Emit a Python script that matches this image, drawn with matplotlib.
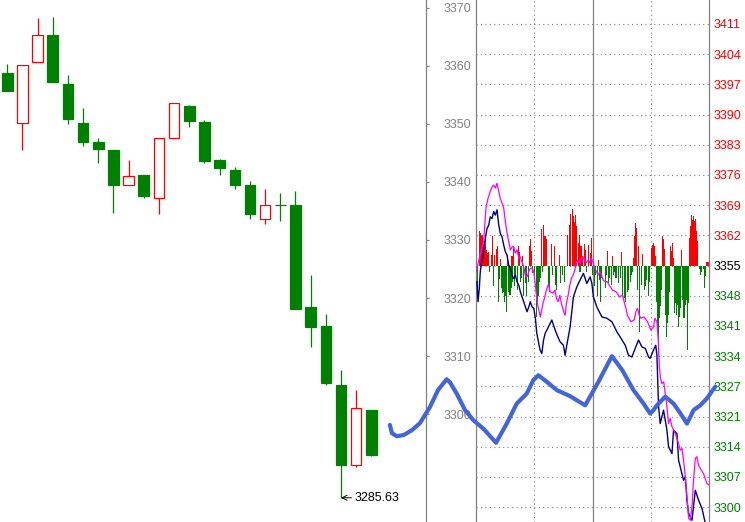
import matplotlib
matplotlib.use("Agg")
import matplotlib.pyplot as plt
from matplotlib.patches import Rectangle
import numpy as np

plt.rcParams['font.family'] = ['Liberation Sans', 'DejaVu Sans']

# ── Daily candles (left panel) ───────────────────────────────────
OPEN = [3358.7, 3350.1, 3360.6, 3365.3, 3356.9, 3350.1, 3346.9, 3345.5, 3339.4,
        3341.2, 3337.3, 3347.5, 3353.1, 3350.3, 3343.8, 3342.0, 3339.5, 3333.6,
        3336.0, 3336.0, 3318.5, 3315.2, 3305.0, 3291.2, 3300.7]
HIGH = [3360.3, 3360.1, 3368.2, 3368.4, 3358.4, 3352.7, 3347.6, 3345.5, 3343.8,
        3341.2, 3347.5, 3353.5, 3353.2, 3350.7, 3344.0, 3342.6, 3340.2, 3338.8,
        3338.1, 3338.4, 3324.0, 3317.3, 3307.6, 3304.2, 3300.7]
LOW = [3355.7, 3345.5, 3360.6, 3357.2, 3350.0, 3346.1, 3343.3, 3334.7, 3339.4,
       3337.2, 3334.4, 3347.5, 3349.5, 3343.3, 3341.2, 3338.8, 3333.7, 3332.8,
       3333.2, 3318.2, 3311.5, 3305.0, 3285.63, 3291.0, 3292.8]
CLOSE = [3355.7, 3360.1, 3365.2, 3357.2, 3350.9, 3346.9, 3345.7, 3339.5, 3341.1,
         3337.5, 3347.5, 3353.5, 3350.4, 3343.6, 3342.4, 3339.5, 3334.4, 3336.1,
         3336.0, 3318.2, 3315.1, 3305.3, 3291.3, 3301.0, 3293.0]
LOW_MARK = 3285.63
MID_TICKS = [3300, 3310, 3320, 3330, 3340, 3350, 3360, 3370]

# ── Intraday panel (right) ───────────────────────────────────────
RIGHT_LABELS = ['3300', '3307', '3314', '3321', '3327', '3334', '3341', '3348',
                '3355', '3362', '3369', '3376', '3383', '3390', '3397', '3404', '3411']

RED_MIN = [4, 5, 6, 7, 8, 9, 10, 11, 12, 13, 16, 17, 19, 21, 22, 25, 32, 37, 39, 44,
           45, 48, 55, 56, 57, 67, 69, 71, 72, 78, 81, 86, 94, 96, 97, 99, 100, 101,
           102, 103, 105, 106, 108, 110, 112, 113, 116, 118, 119, 126, 135, 140, 150,
           162, 163, 164, 165, 167, 171, 181, 182, 183, 184, 185, 192, 193, 194, 200,
           201, 202, 203, 211, 220, 221, 222, 223, 224, 225, 226, 227, 228, 237, 238, 239]
RED_VAL = [8.0, 7.5, 6.7, 7.1, 5.0, 4.8, 6.8, 3.5, 2.8, 3.2, 2.5, 6.9, 2.5, 3.9, 4.4,
           1.6, 2.5, 2.1, 4.4, 4.6, 3.2, 2.1, 4.4, 6.1, 3.4, 8.5, 9.4, 6.9, 6.2, 5.0,
           4.4, 2.5, 7.1, 9.4, 11.8, 12.9, 11.3, 10.1, 11.7, 9.0, 5.1, 7.1, 4.4, 2.1,
           4.9, 3.6, 4.8, 2.8, 6.3, 1.3, 3.4, 2.1, 3.1, 1.8, 6.7, 9.7, 8.6, 4.4, 2.7,
           4.1, 4.8, 5.1, 4.6, 2.3, 6.7, 6.0, 3.8, 4.6, 3.3, 5.2, 1.8, 3.5, 6.4, 9.0,
           11.7, 10.4, 11.3, 10.2, 10.6, 7.9, 5.6, 0.9, 0.9, 0.9]

GRN_MIN = [1, 2, 14, 18, 23, 24, 26, 27, 28, 29, 30, 31, 33, 34, 35, 36, 38, 40, 41, 43,
           46, 47, 49, 51, 52, 54, 58, 60, 62, 63, 64, 65, 66, 68, 75, 76, 79, 82, 83,
           87, 89, 91, 107, 114, 120, 122, 123, 125, 127, 128, 129, 133, 134, 136, 137,
           139, 141, 143, 144, 147, 149, 151, 153, 154, 156, 157, 159, 160, 161, 166,
           168, 170, 173, 174, 175, 177, 178, 186, 187, 188, 189, 190, 191, 195, 196,
           197, 198, 199, 204, 205, 206, 207, 208, 209, 210, 212, 213, 214, 215, 216,
           218, 219, 230, 231, 232, 234, 235, 236]
GRN_VAL = [-5.2, -4.4, -1.4, -4.8, -8.3, -3.0, -5.2, -6.4, -6.0, -8.3, -7.0, -10.7,
           -6.0, -4.4, -6.7, -5.2, -3.7, -4.8, -2.5, -5.5, -3.7, -2.9, -7.1, -4.0,
           -7.1, -3.7, -1.8, -2.5, -11.7, -8.5, -7.1, -3.7, -2.9, -1.4, -4.4, -6.0,
           -2.1, -4.4, -5.6, -4.1, -2.1, -3.7, -1.4, -1.4, -2.1, -4.8, -2.1, -7.1,
           -3.3, -8.3, -2.9, -5.2, -2.1, -4.1, -2.9, -4.4, -2.1, -1.4, -2.9, -4.1,
           -2.9, -6.7, -7.5, -8.3, -6.0, -5.6, -3.7, -2.1, -1.4, -5.6, -15.2, -4.4,
           -5.6, -4.8, -3.3, -7.1, -3.7, -8.3, -14.4, -20.5, -12.1, -9.4, -5.5, -11.3,
           -16.3, -13.1, -11.3, -6.0, -10.9, -8.6, -11.3, -9.0, -14.0, -11.7, -9.7,
           -7.8, -10.1, -12.0, -9.0, -7.8, -19.3, -8.5, -0.9, -2.1, -1.4, -0.9, -5.1, -2.5]
BAR_BASE = 3355.5

MAG_T = [0, 4.1, 7.9, 9.0, 10.3, 12.4, 14.7, 16.5, 18.2, 19.9, 21.6, 23.4, 25.0, 26.8,
         28.5, 30.2, 31.9, 33.7, 35.3, 37.1, 38.8, 40.5, 42.2, 44.0, 45.6, 47.4, 49.1,
         50.8, 52.5, 54.3, 55.9, 57.7, 59.4, 61.1, 62.8, 64.6, 66.2, 69.0, 70.8, 72.4,
         74.5, 76.2, 79.3, 81.4, 82.7, 84.5, 86.2, 87.9, 89.6, 91.7, 93.0, 94.8, 96.5,
         98.2, 99.9, 101.7, 103.3, 105.0, 106.8, 108.5, 110.2, 112.0, 113.6, 115.4,
         117.1, 118.8, 120.5, 122.3, 123.9, 125.7, 127.4, 129.1, 130.8, 132.6, 135.2,
         137.0, 140.4, 143.9, 145.5, 147.3, 150.7, 152.4, 154.2, 155.8, 159.3, 162.7,
         164.5, 166.1, 167.9, 169.6, 173.0, 176.4, 179.9, 182.6, 184.0, 186.1, 187.5,
         188.5, 189.8, 191.2, 193.1, 194.7, 196.4, 198.1, 199.8, 201.6, 205.0, 208.4,
         210.1, 211.9, 213.5, 215.3, 217.0, 218.7, 220.4, 222.2, 223.8, 225.6, 227.3,
         228.9, 230.7, 234.1, 237.6, 240.0]
MAG_P = [3354.0, 3357.9, 3361.0, 3364.8, 3368.7, 3371.0, 3372.5, 3373.6, 3374.0, 3373.3,
         3374.4, 3372.5, 3370.9, 3369.9, 3368.7, 3365.6, 3363.0, 3361.0, 3359.1, 3359.8,
         3359.8, 3358.4, 3359.1, 3357.2, 3357.5, 3356.3, 3355.2, 3353.3, 3352.9, 3354.1,
         3354.9, 3354.9, 3354.1, 3351.0, 3347.2, 3345.3, 3343.7, 3346.9, 3348.3, 3349.9,
         3351.2, 3349.5, 3349.2, 3349.9, 3348.0, 3347.2, 3348.7, 3346.8, 3345.3, 3344.1,
         3346.8, 3348.7, 3351.0, 3352.6, 3353.3, 3354.5, 3356.0, 3356.8, 3356.0, 3357.2,
         3357.5, 3356.5, 3356.2, 3356.8, 3356.2, 3357.2, 3356.2, 3354.9, 3354.1, 3353.3,
         3354.1, 3353.3, 3352.2, 3351.8, 3351.8, 3351.0, 3349.9, 3349.5, 3349.1, 3348.3,
         3348.7, 3347.2, 3345.7, 3344.1, 3342.6, 3343.0, 3344.9, 3345.7, 3344.1, 3343.4,
         3343.7, 3342.6, 3340.7, 3341.4, 3343.4, 3342.6, 3338.4, 3332.6, 3329.6, 3328.4,
         3328.8, 3326.1, 3323.1, 3319.2, 3320.4, 3318.5, 3316.9, 3314.6, 3313.1, 3313.5,
         3310.8, 3307.0, 3302.4, 3297.5, 3297.0, 3300.1, 3306.2, 3311.2, 3311.6, 3309.7,
         3308.9, 3307.7, 3305.4, 3305.1]

NAVY_T = [1.0, 2.1, 3.4, 4.4, 5.5, 6.9, 9.0, 11.3, 13.1, 14.7, 16.5, 18.2, 19.9, 21.6,
          23.4, 25.0, 26.8, 28.5, 30.2, 31.9, 33.7, 35.3, 37.1, 38.8, 40.5, 42.2, 44.0,
          45.6, 47.4, 49.1, 50.8, 52.5, 54.3, 55.9, 57.7, 59.4, 61.1, 62.5, 64.2, 65.9,
          67.7, 69.5, 71.1, 74.5, 78.0, 81.4, 84.8, 86.5, 89.9, 91.7, 93.4, 96.8, 100.2,
          103.7, 107.1, 110.5, 114.0, 117.4, 119.2, 120.8, 124.3, 129.5, 134.6, 139.8,
          144.9, 148.3, 153.5, 156.9, 160.4, 163.8, 167.2, 170.7, 174.1, 177.5, 179.2,
          182.6, 184.9, 186.1, 187.8, 189.5, 192.9, 196.4, 198.1, 201.6, 203.2, 206.7,
          208.4, 213.5, 215.3, 217.0, 218.7, 222.2, 225.6, 229.0, 232.5, 235.9, 237.0]
NAVY_P = [3351.8, 3347.2, 3350.3, 3354.1, 3356.0, 3357.2, 3361.0, 3364.0, 3364.8, 3366.7,
          3366.3, 3367.9, 3367.1, 3368.3, 3364.8, 3362.9, 3362.1, 3360.2, 3358.7, 3357.9,
          3355.6, 3354.9, 3353.3, 3352.5, 3353.3, 3351.8, 3351.0, 3349.5, 3348.3, 3347.2,
          3346.0, 3344.9, 3346.0, 3347.2, 3346.0, 3345.7, 3343.4, 3340.0, 3338.0, 3336.1,
          3335.3, 3338.4, 3339.9, 3341.4, 3343.0, 3340.7, 3338.8, 3338.0, 3337.2, 3334.9,
          3337.2, 3341.4, 3348.3, 3350.6, 3352.2, 3353.7, 3351.4, 3352.9, 3351.4, 3348.3,
          3346.0, 3343.7, 3343.4, 3342.6, 3340.3, 3339.1, 3337.2, 3334.9, 3334.5, 3336.5,
          3338.4, 3336.8, 3336.5, 3334.5, 3334.2, 3336.1, 3337.2, 3334.9, 3323.1, 3319.2,
          3322.3, 3317.7, 3313.9, 3312.3, 3317.7, 3316.9, 3310.8, 3306.2, 3307.0, 3301.6,
          3298.6, 3297.0, 3303.9, 3301.6, 3299.7, 3296.3, 3294.5]

# thick overlay line, same coordinates as the intraday panel
BLUE_T = [-88.6, -86.5, -81.4, -74.2, -65.9, -57.7, -47.4, -39.1, -30.2, -26.8, -19.9,
          -11.3, -2.8, 8.2, 20.6, 31.6, 41.9, 52.2, 59.0, 64.2, 72.8, 83.1, 96.8, 112.3,
          125.7, 139.8, 150.4, 162.0, 172.3, 179.2, 182.6, 186.1, 194.7, 203.2, 210.1,
          217.0, 220.4, 223.8, 230.7, 237.6, 246.2]
BLUE_P = [3318.9, 3317.0, 3316.3, 3316.6, 3317.7, 3319.3, 3323.0, 3326.9, 3329.4, 3328.7,
          3326.1, 3322.3, 3320.0, 3317.9, 3314.8, 3319.2, 3323.8, 3326.1, 3329.2, 3330.3,
          3328.8, 3326.9, 3325.5, 3323.4, 3328.7, 3334.7, 3331.5, 3326.9, 3323.8, 3321.5,
          3322.3, 3323.4, 3325.4, 3323.8, 3321.6, 3319.2, 3320.7, 3322.3, 3323.4, 3325.0,
          3327.7]

C_UP = "#FF0000"
C_DN = "#008000"
C_AX = "#808080"
GRID_LS = (0, (1, 3))

W, H = 745, 522
fig = plt.figure(figsize=(W / 100, H / 100), dpi=100)

# ── Left: candles + middle price axis ────────────────────────────
ax = fig.add_axes([0, 0, 425.5 / W, 1])
ax.set_xlim(-0.48, 27.57)
ax.set_ylim(3281.46, 3371.31)
for s in ["top", "left", "bottom"]:
    ax.spines[s].set_visible(False)
ax.spines["right"].set_color(C_AX)
ax.spines["right"].set_linewidth(0.9)
ax.set_xticks([])
ax.yaxis.tick_right()
ax.set_yticks(MID_TICKS)
ax.tick_params(axis="y", direction="out", length=2.5, width=0.8, color=C_AX,
               labelcolor=C_AX, labelsize=9, pad=10.5)

for i, (o, h, l, c) in enumerate(zip(OPEN, HIGH, LOW, CLOSE)):
    up = c > o
    col = C_UP if up else C_DN
    ax.vlines(i, l, h, color=col, lw=0.9, zorder=1)
    bottom = min(o, c)
    ht = abs(c - o)
    ax.add_patch(Rectangle((i - 0.35, bottom), 0.7, ht,
                           facecolor="white" if up else col, edgecolor=col,
                           lw=0.9, zorder=2))

ax.annotate("3285.63", xy=(22, LOW_MARK), xytext=(9.5, 0), textcoords="offset points",
            va="center", ha="left", fontsize=9, color="black",
            arrowprops=dict(arrowstyle="->", color="black", lw=0.7,
                            shrinkA=0, shrinkB=0))

# ── Right: intraday panel ────────────────────────────────────────
ax2 = fig.add_axes([476 / W, 0, (709.3 - 476) / W, 1])
ax2.set_xlim(0, 240)
ax2.set_ylim(3296.6, 3416.5)
for s in ["top", "bottom"]:
    ax2.spines[s].set_visible(False)
for s in ["left", "right"]:
    ax2.spines[s].set_color(C_AX)
    ax2.spines[s].set_linewidth(0.9)
ax2.set_xticks([])
ax2.yaxis.tick_right()
rticks = np.linspace(3300, 3411, len(RIGHT_LABELS))
ax2.set_yticks(rticks)
ax2.set_yticklabels(RIGHT_LABELS)
ax2.tick_params(axis="y", length=0, labelsize=9, pad=3)
for lab in ax2.get_yticklabels():
    v = int(lab.get_text())
    lab.set_color(C_UP if v > 3355 else ("black" if v == 3355 else C_DN))

for t in rticks:
    ax2.axhline(t, color=C_AX, lw=0.8, ls=GRID_LS, zorder=0)
ax2.axvline(60, color=C_AX, lw=0.8, ls=GRID_LS, zorder=0)
ax2.axvline(180, color=C_AX, lw=0.8, ls=GRID_LS, zorder=0)
ax2.axvline(120, color=C_AX, lw=0.9, zorder=0)

ax2.bar(RED_MIN, RED_VAL, bottom=BAR_BASE, width=1.1, color=C_UP, lw=0,
        antialiased=False, zorder=1)
ax2.bar(GRN_MIN, GRN_VAL, bottom=BAR_BASE, width=1.1, color=C_DN, lw=0,
        antialiased=False, zorder=1)

ax2.plot(NAVY_T, NAVY_P, color="#000080", lw=1.0, zorder=3)
ax2.plot(MAG_T, MAG_P, color="#FF00FF", lw=0.9, zorder=4)

ax2.plot(BLUE_T, BLUE_P, color="#4464d9", lw=3.0, solid_capstyle="round",
         solid_joinstyle="round", zorder=10, clip_on=False)

fig.savefig("out.png", dpi=100)
